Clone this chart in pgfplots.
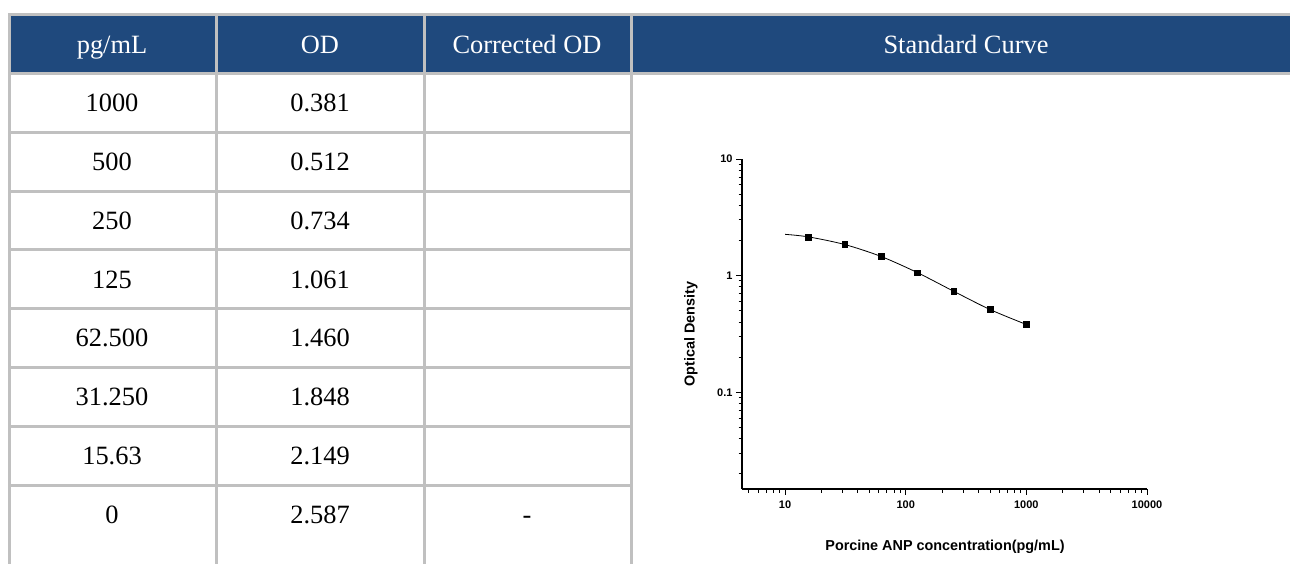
\documentclass[border=0pt]{standalone}
\usepackage{fontspec}
\setmainfont{Liberation Serif}
\newfontfamily\arial{Liberation Sans}
\usepackage{pgfplots}
\pgfplotsset{compat=1.18}
\definecolor{hdr}{HTML}{1F497D}
\definecolor{rule}{HTML}{C0C0C0}

\begin{document}
\begin{tikzpicture}
\useasboundingbox (0,0) rectangle (1290pt,-563pt);

% table, drawn in pixel units (y downwards)
\begin{scope}[x=1pt,y=-1pt]
  \clip (0,0) rectangle (1290,563);
  \fill[hdr] (8,14) rectangle (1310,73.5);
  \draw[rule,line width=3pt] (8,14.5) -- (1310,14.5);
  \draw[rule,line width=3pt] (8,73.5) -- (1310,73.5);
  \foreach \k in {1,...,7}
    \draw[rule,line width=3pt] (8,{73.5+58.8*\k}) -- (632,{73.5+58.8*\k});
  \foreach \xx in {9.7,216,424,631}
    \draw[rule,line width=3pt] (\xx,13) -- (\xx,570);

  \tikzset{cell/.style={anchor=base,font=\fontsize{26.4}{30}\selectfont}}
  \node[cell,white] at (112,53) {pg/mL};
  \node[cell,white] at (320,53) {OD};
  \node[cell,white] at (527,53) {Corrected OD};
  \node[cell,white] at (966,53) {Standard Curve};

  \foreach \a/\b [count=\i from 0] in {1000/0.381,500/0.512,250/0.734,125/1.061,62.500/1.460,31.250/1.848,15.63/2.149,0/2.587}{
    \node[cell] at (112,{111.7+58.8*\i}) {\a};
    \node[cell] at (320,{111.7+58.8*\i}) {\b};
  }
  \node[cell] at (527,{111.7+58.8*7}) {-};

  \node[rotate=90,font=\arial\bfseries\fontsize{14.4}{16}\selectfont] at (691,334) {Optical Density};
  \node[font=\arial\bfseries\fontsize{14.4}{16}\selectfont] at (945,547) {Porcine ANP concentration(pg/mL)};
\end{scope}

\begin{axis}[
  at={(742pt,-489pt)}, anchor=south west,
  scale only axis, width=405pt, height=330pt,
  xmode=log, ymode=log,
  xmin=4.4, xmax=10000, ymin=0.0148, ymax=10,
  axis x line*=bottom, axis y line*=left,
  axis line style={-,line width=1.2pt},
  tick align=outside,
  major tick length=6pt, minor tick length=3.5pt,
  tick style={black,line width=1pt},
  xtick={10,100,1000,10000},
  minor xtick={5,6,7,8,9,20,30,40,50,60,70,80,90,200,300,400,500,600,700,800,900,2000,3000,4000,5000,6000,7000,8000,9000},
  ytick={0.1,1,10},
  minor ytick={0.02,0.03,0.04,0.05,0.06,0.07,0.08,0.09,0.2,0.3,0.4,0.5,0.6,0.7,0.8,0.9,2,3,4,5,6,7,8,9},
  log ticks with fixed point,
  /pgf/number format/1000 sep={},
  /pgf/number format/assume math mode=true,
  ticklabel style={font=\arial\bfseries\fontsize{11}{13}\selectfont},
  xticklabel style={yshift=-2pt},
]
  \addplot[black,line width=0.8pt,smooth] coordinates {
    (10,2.26) (15.63,2.149) (31.25,1.848) (62.5,1.460) (125,1.061) (250,0.734) (500,0.512) (1000,0.381)
  };
  \addplot[only marks,mark=square*,mark size=2.9pt,black] coordinates {
    (15.63,2.149) (31.25,1.848) (62.5,1.460) (125,1.061) (250,0.734) (500,0.512) (1000,0.381)
  };
\end{axis}
\end{tikzpicture}
\end{document}
